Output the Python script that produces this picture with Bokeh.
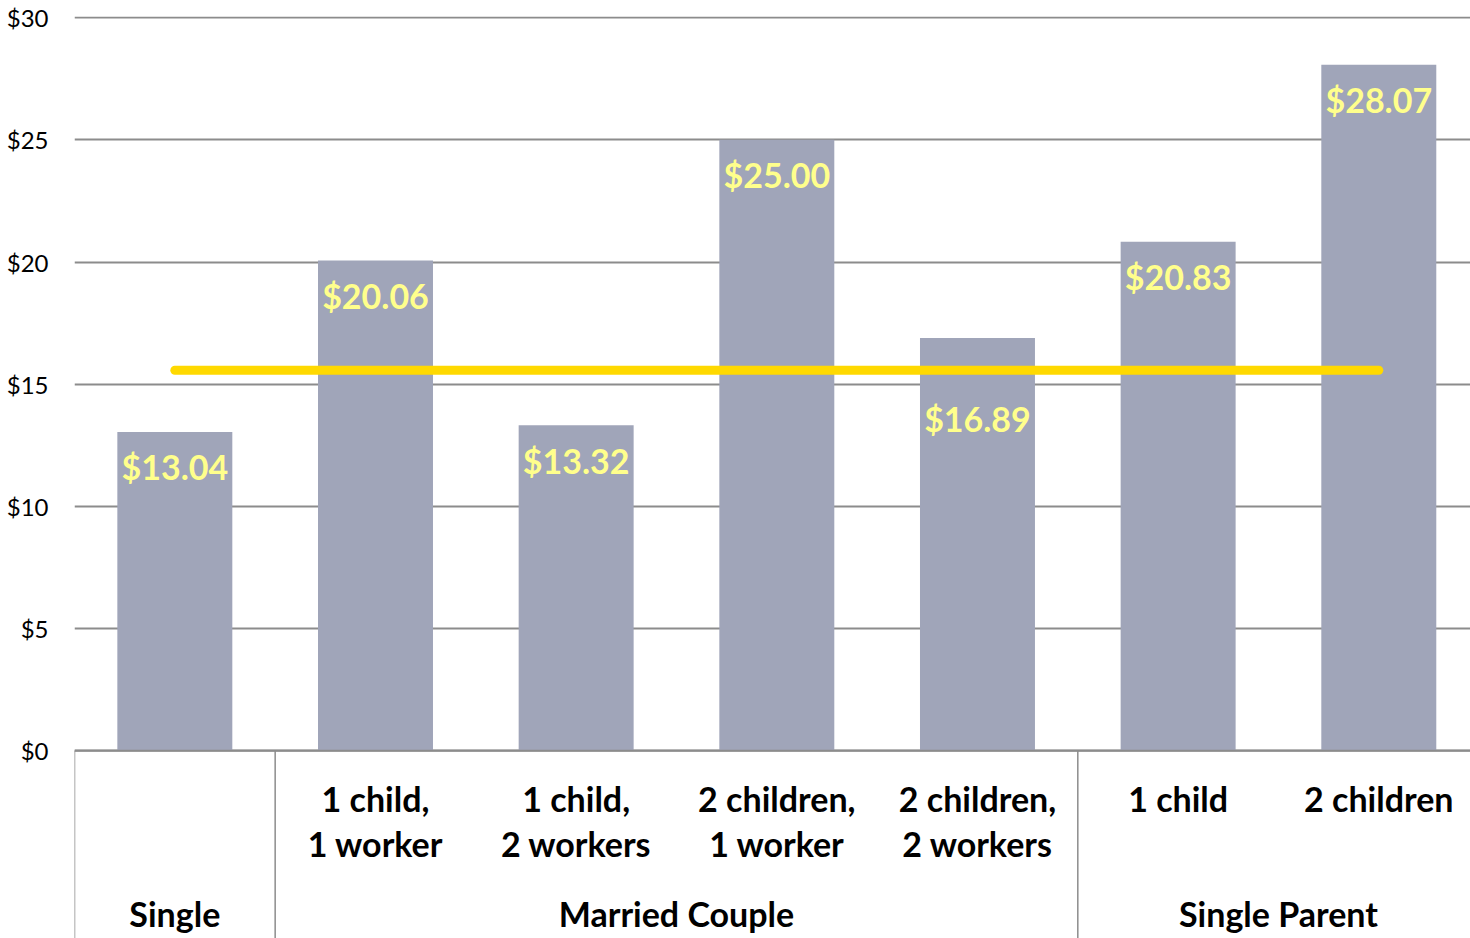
from bokeh.plotting import figure
from bokeh.models import ColumnDataSource, FixedTicker, Range1d
from bokeh.core.properties import value
from bokeh.embed import file_html
from bokeh.resources import INLINE

# ---- data ----
sub_labels = ["", "1 child,\n1 worker", "1 child,\n2 workers", "2 children,\n1 worker",
              "2 children,\n2 workers", "1 child", "2 children"]
wages = [13.04, 20.06, 13.32, 25.00, 16.89, 20.83, 28.07]
wage_labels = ["$13.04", "$20.06", "$13.32", "$25.00", "$16.89", "$20.83", "$28.07"]
groups = ["Single", "Married Couple", "Single Parent"]
group_sizes = [1, 4, 2]
reference_wage = 15.57
y_ticks = [0, 5, 10, 15, 20, 25, 30]
y_tick_labels = ["$0", "$5", "$10", "$15", "$20", "$25", "$30"]

FONT = "Lato"
BAR = "#A0A5B9"
GRID = "#8C8C8C"

n = len(wages)
xs = [i + 0.5 for i in range(n)]
Y0 = -7.69

# value labels sit just inside the bar top, moved below the reference line if they would cross it
label_y = []
for w in wages:
    ly = w - 1.43
    if abs(ly - reference_wage) < 1.2:
        ly = reference_wage - 1.99
    label_y.append(ly)

p = figure(width=1470, height=938, output_backend="svg", toolbar_location=None,
           x_range=Range1d(0, n - 0.043), y_range=Range1d(Y0, 30.05),
           min_border_left=74, min_border_right=0, min_border_top=16, min_border_bottom=0)
p.outline_line_color = None
p.xaxis.visible = False
p.xgrid.visible = False

# y axis
p.yaxis.ticker = FixedTicker(ticks=y_ticks)
p.yaxis.major_label_overrides = {t: l for t, l in zip(y_ticks, y_tick_labels)}
p.yaxis.axis_line_color = None
p.yaxis.major_tick_line_color = None
p.yaxis.minor_tick_line_color = None
p.yaxis.major_tick_out = 0
p.yaxis.major_tick_in = 0
p.yaxis.major_label_standoff = 26
p.yaxis.major_label_text_font = FONT
p.yaxis.major_label_text_font_size = "24px"
p.yaxis.major_label_text_color = "#000000"

p.ygrid.ticker = FixedTicker(ticks=y_ticks)
p.ygrid.grid_line_color = GRID
p.ygrid.grid_line_width = 2

src = ColumnDataSource(dict(x=xs, top=wages, ly=label_y, lab=wage_labels, sub=sub_labels))

p.vbar(x="x", top="top", bottom=0, width=0.573, source=src, fill_color=BAR, line_color=None)

# baseline over the bars
p.segment(x0=[0], x1=[n], y0=[0], y1=[0], line_color=GRID, line_width=2)

# value labels
p.text(x="x", y="ly", text="lab", source=src, text_font=value(FONT), text_font_style="bold",
       text_font_size="34px", text_color="#FFFF8C", text_align="center", text_baseline="middle")

# reference line
p.segment(x0=[xs[0]], x1=[xs[-1]], y0=[reference_wage], y1=[reference_wage],
          line_color="#FFD900", line_width=9, line_cap="round")

# category labels
p.text(x="x", y=0, text="sub", source=src, text_font=value(FONT), text_font_style="bold",
       text_font_size="34px", text_color="#000000", text_align="center", text_baseline="top",
       y_offset=27, text_line_height=1.1)

# group separators and labels
bounds = [0]
for s in group_sizes:
    bounds.append(bounds[-1] + s)
centers = [(bounds[i] + bounds[i + 1]) / 2 for i in range(len(groups))]
p.segment(x0=bounds, x1=bounds, y0=[0] * len(bounds), y1=[Y0] * len(bounds),
          line_color=GRID, line_width=1.5)
p.text(x=centers, y=[0] * len(groups), text=groups, text_font=value(FONT), text_font_style="bold",
       text_font_size="34px", text_color="#000000", text_align="center", text_baseline="middle",
       y_offset=163)

open("out.html", "w").write(file_html(p, INLINE))
